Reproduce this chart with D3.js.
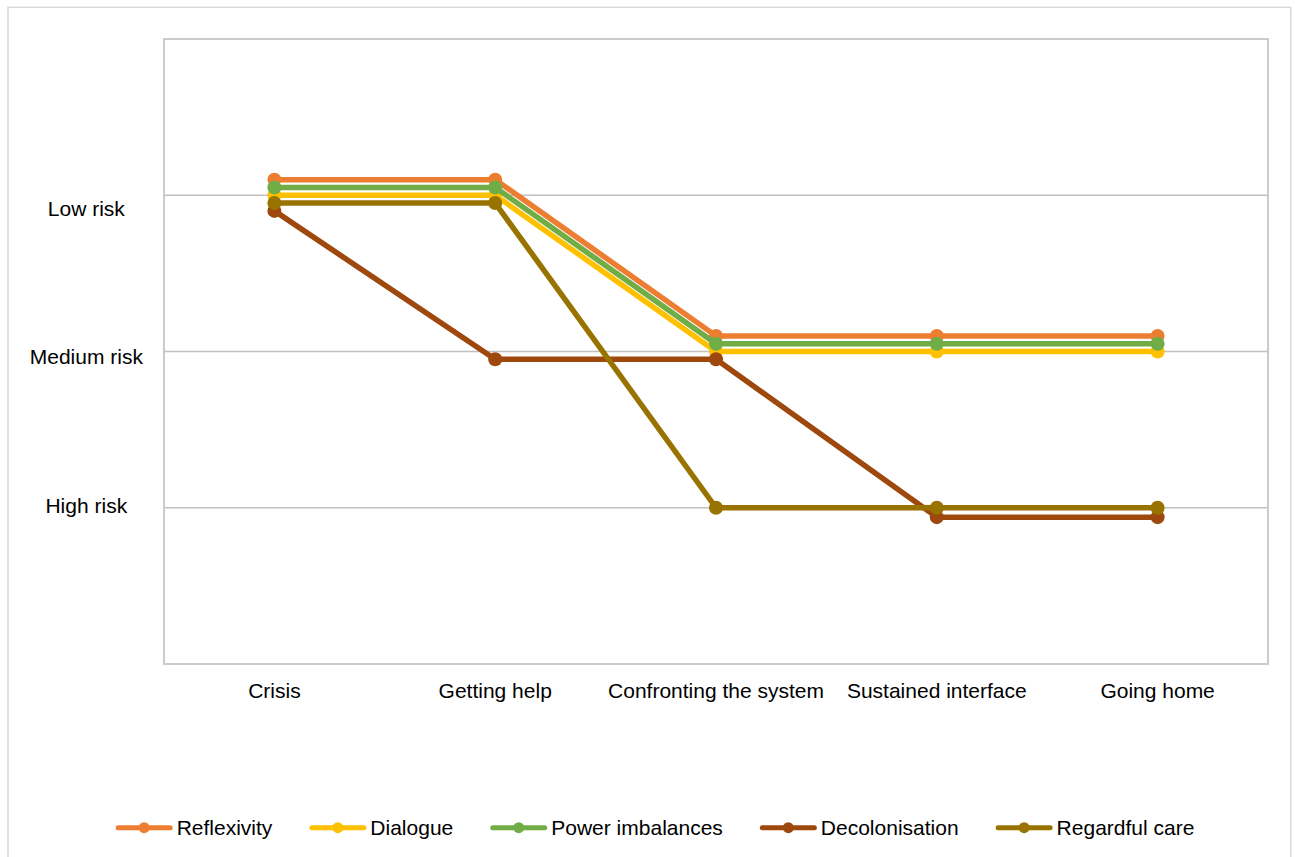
<!DOCTYPE html>
<html>
<head>
<meta charset="utf-8">
<script src="https://cdn.jsdelivr.net/npm/d3@7"></script>
<style>
  html, body { margin: 0; padding: 0; background: #ffffff; }
  svg { display: block; }
  text { font-family: "Liberation Sans", Arial, sans-serif; fill: #000000; }
</style>
</head>
<body>
<svg id="chart" width="1295" height="857"></svg>
<script>
const categories = ["Crisis", "Getting help", "Confronting the system", "Sustained interface", "Going home"];
const seriesNames = ["Reflexivity", "Dialogue", "Power imbalances", "Decolonisation", "Regardful care"];
const reflexivity = [3.1, 3.1, 2.1, 2.1, 2.1];
const dialogue = [3.0, 3.0, 2.0, 2.0, 2.0];
const powerImbalances = [3.05, 3.05, 2.05, 2.05, 2.05];
const decolonisation = [2.9, 1.95, 1.95, 0.94, 0.94];
const regardfulCare = [2.95, 2.95, 1.0, 1.0, 1.0];
const riskLabels = ["Low risk", "Medium risk", "High risk"];
const riskValues = [3, 2, 1];
const gridValues = [1, 2, 3];

const colors = ["#ED7D31", "#FFC000", "#70AD47", "#9E480E", "#997300"];
const seriesValues = [reflexivity, dialogue, powerImbalances, decolonisation, regardfulCare];
const series = seriesNames.map((name, i) => ({
  name, color: colors[i],
  values: categories.map((c, j) => ({ cat: c, v: seriesValues[i][j] }))
}));

const svg = d3.select("#chart");
const plot = { left: 164, right: 1268, top: 39, bottom: 664 };

// outer chart border
svg.append("rect")
  .attr("x", 8).attr("y", 7.3)
  .attr("width", 1282.7).attr("height", 870)
  .attr("fill", "#ffffff")
  .attr("stroke", "#d9d9d9").attr("stroke-width", 1.5);

const x = d3.scaleBand().domain(categories).range([plot.left, plot.right]);
const y = d3.scaleLinear().domain([0, 4]).range([plot.bottom, plot.top]);
// the category labels of the value axis sit on their own evenly spaced scale
const yLabel = d3.scaleLinear().domain([1, 3]).range([505, 208.8]);

// gridlines
svg.append("g").selectAll("line").data(gridValues).join("line")
  .attr("x1", plot.left).attr("x2", plot.right)
  .attr("y1", d => y(d)).attr("y2", d => y(d))
  .attr("stroke", "#c0c0c0").attr("stroke-width", 1.5);

// plot border
svg.append("rect")
  .attr("x", plot.left).attr("y", plot.top)
  .attr("width", plot.right - plot.left).attr("height", plot.bottom - plot.top)
  .attr("fill", "none").attr("stroke", "#c6c6c6").attr("stroke-width", 1.8);

// y labels
svg.append("g").selectAll("text").data(riskLabels).join("text")
  .attr("x", 86.3)
  .attr("y", (d, i) => yLabel(riskValues[i]))
  .attr("dy", "0.36em")
  .attr("text-anchor", "middle")
  .attr("font-size", "21px")
  .text(d => d);

// x labels
const xAxis = svg.append("g")
  .attr("transform", `translate(0,${plot.bottom})`)
  .call(d3.axisBottom(x).tickSize(0).tickPadding(0));
xAxis.select(".domain").remove();
xAxis.selectAll("text")
  .attr("y", 26.8)
  .attr("dy", "0.36em")
  .attr("font-size", "21px")
  .attr("font-family", "Liberation Sans, Arial, sans-serif")
  .attr("fill", "#000000");

const cx = d => x(d.cat) + x.bandwidth() / 2;
const line = d3.line().x(cx).y(d => y(d.v));

const gSeries = svg.append("g").selectAll("g").data(series).join("g");
gSeries.append("path")
  .attr("d", d => line(d.values))
  .attr("fill", "none")
  .attr("stroke", d => d.color)
  .attr("stroke-width", 5.5)
  .attr("stroke-linejoin", "round")
  .attr("stroke-linecap", "round");
gSeries.selectAll("circle").data(d => d.values.map(v => ({ ...v, color: d.color }))).join("circle")
  .attr("cx", cx).attr("cy", d => y(d.v))
  .attr("r", 7)
  .attr("fill", d => d.color);

// legend
const legend = svg.append("g");
const legendY = 827.7;
const lineLen = 57, textGap = 4, itemGap = 37;
const items = legend.selectAll("g").data(series).join("g");
items.append("line")
  .attr("x1", 2.5).attr("x2", lineLen - 2.5)
  .attr("y1", 0).attr("y2", 0)
  .attr("stroke", d => d.color).attr("stroke-width", 5)
  .attr("stroke-linecap", "round");
items.append("circle")
  .attr("cx", lineLen / 2).attr("cy", 0).attr("r", 5.5)
  .attr("fill", d => d.color);
items.append("text")
  .attr("x", lineLen + textGap).attr("y", 0).attr("dy", "0.36em")
  .attr("font-size", "21px")
  .text(d => d.name);
let offset = 0;
const widths = [];
items.each(function() {
  const w = d3.select(this).select("text").node().getComputedTextLength();
  widths.push(lineLen + textGap + w);
});
const total = d3.sum(widths) + itemGap * (widths.length - 1);
let start = 655 - total / 2;
items.attr("transform", (d, i) => {
  const t = `translate(${start + offset},${legendY})`;
  offset += widths[i] + itemGap;
  return t;
});
</script>
</body>
</html>
